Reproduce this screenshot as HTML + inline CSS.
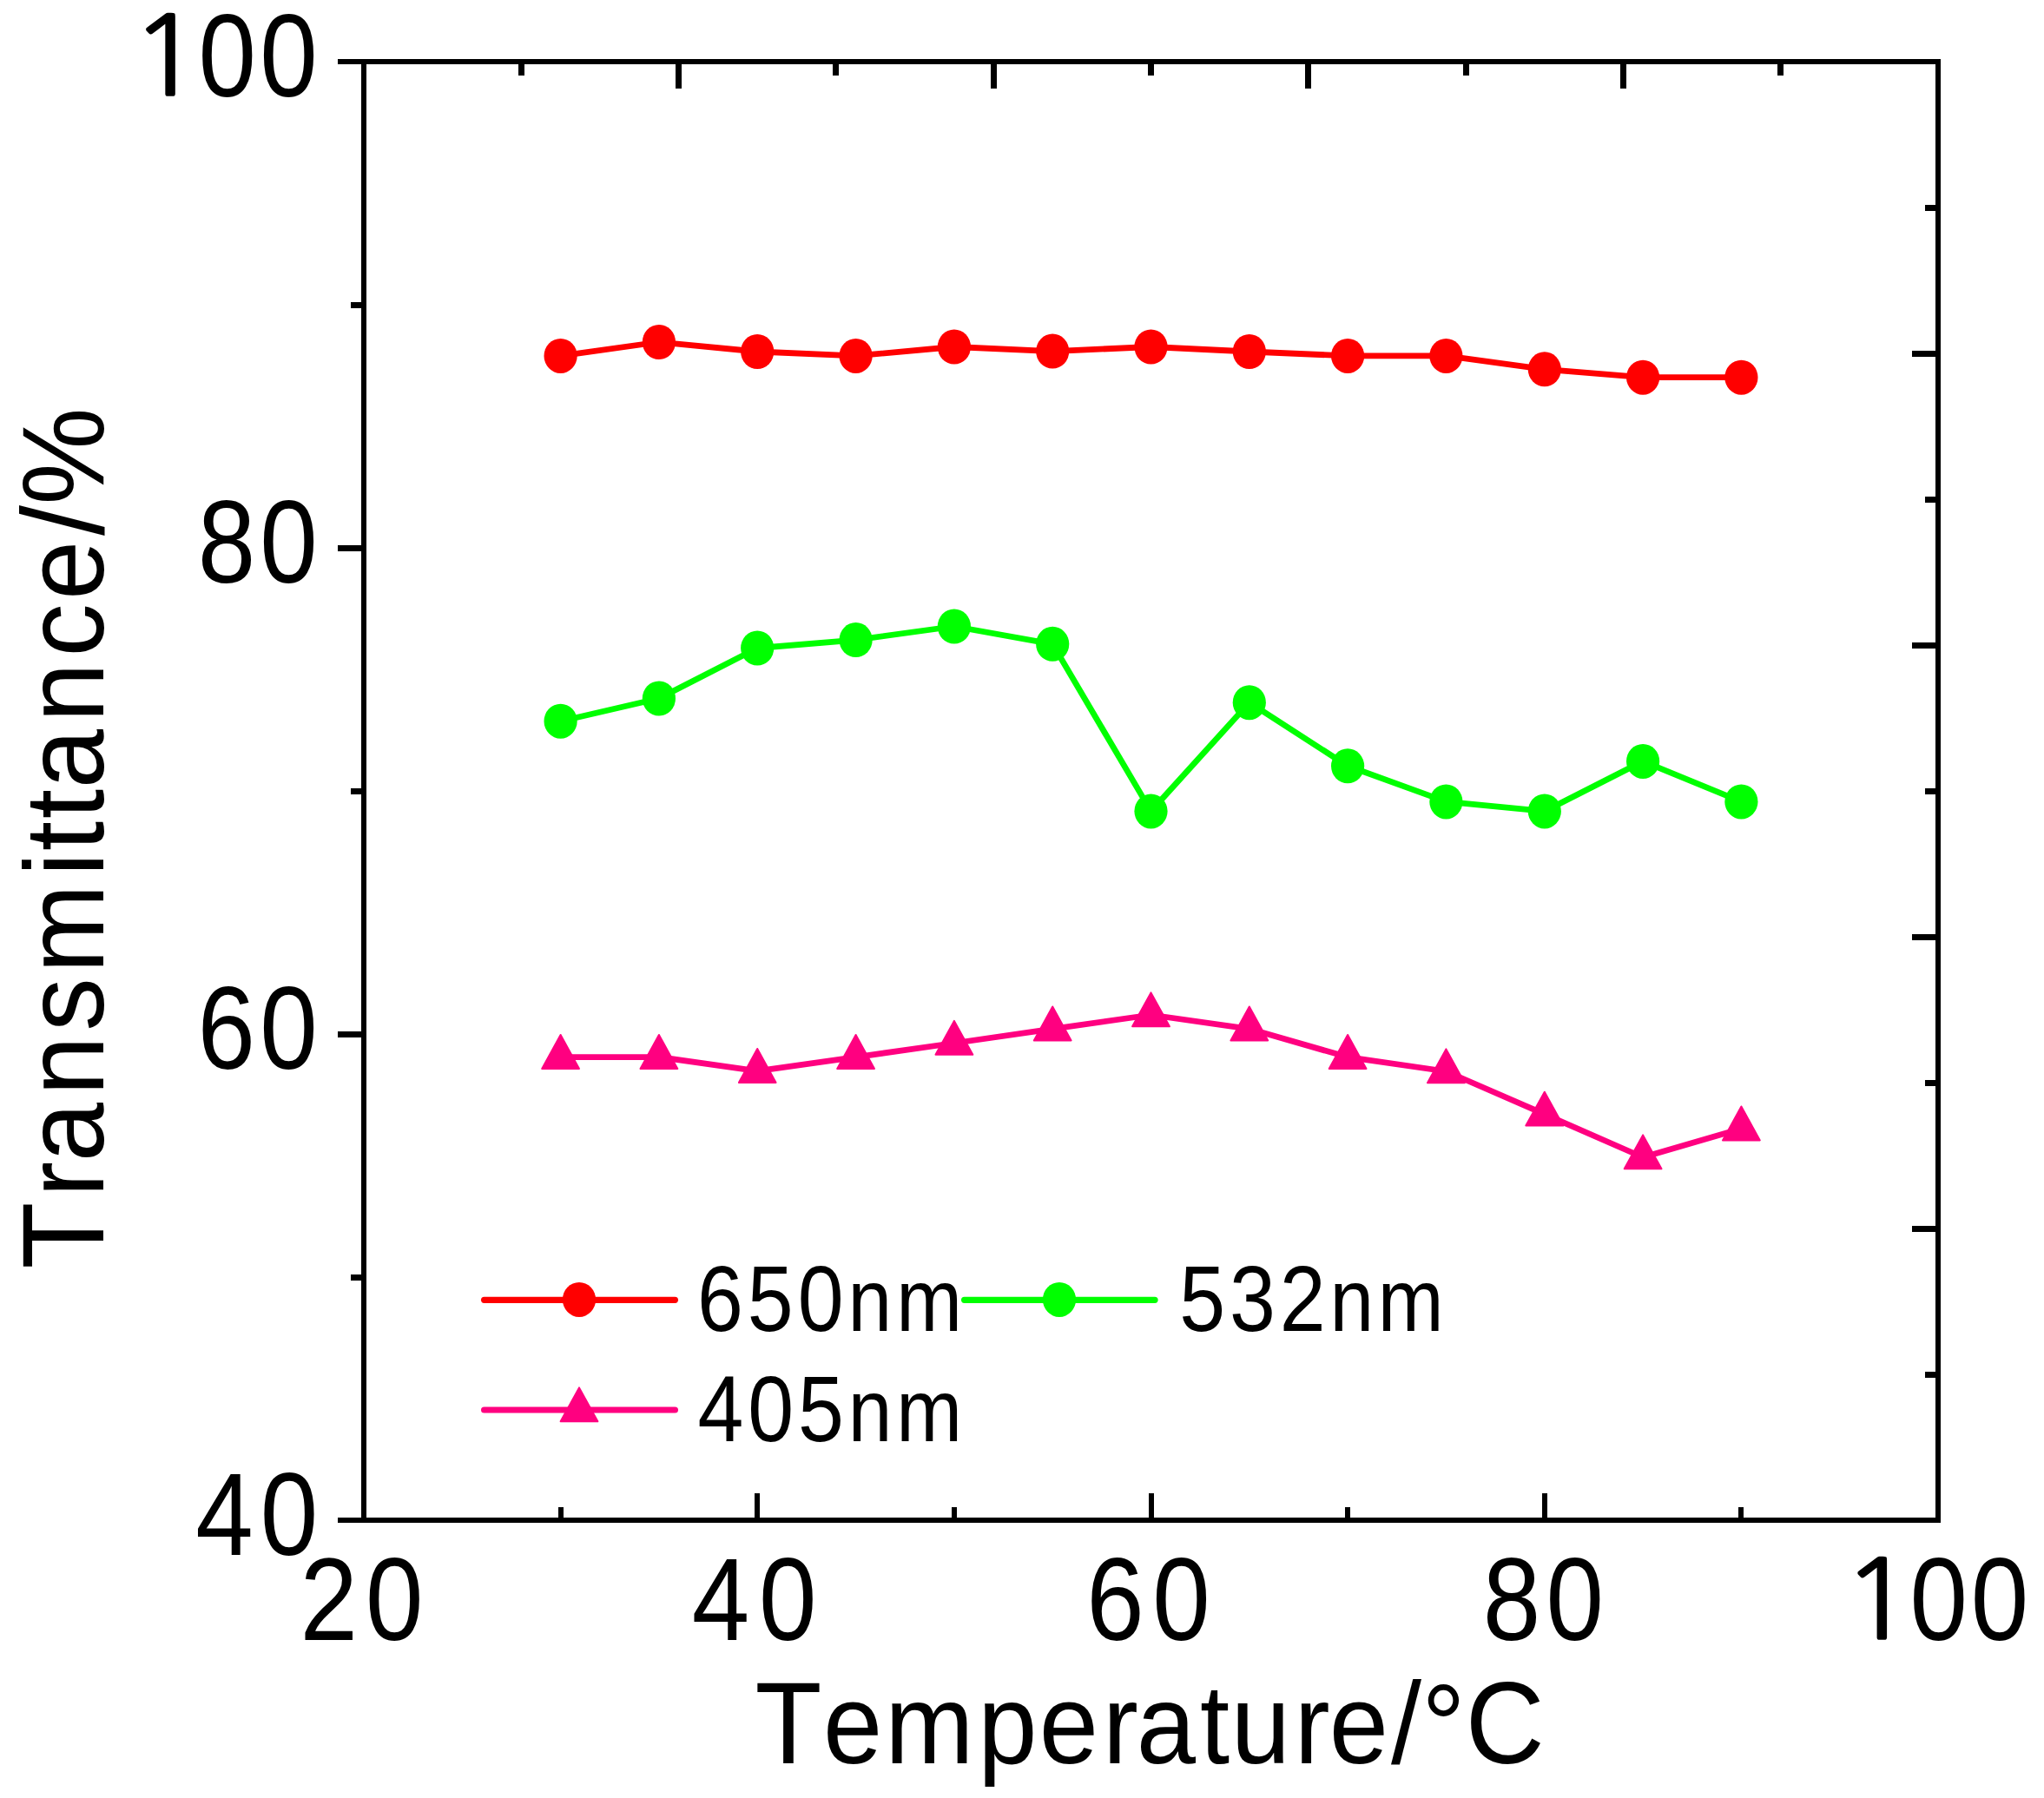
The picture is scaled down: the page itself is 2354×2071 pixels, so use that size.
<!DOCTYPE html>
<html lang="en"><head><meta charset="utf-8"><title>Transmittance vs Temperature</title>
<style>html,body{margin:0;padding:0;background:#fff}svg{display:block}text{font-family:"Liberation Sans",Arial,sans-serif;fill:#000;font-kerning:none}</style>
</head><body>
<svg width="2354" height="2071" viewBox="0 0 2354 2071">
<rect width="2354" height="2071" fill="#fff"/>
<g fill="#000" shape-rendering="crispEdges">
<rect x="416" y="68" width="1819" height="6"/>
<rect x="416" y="1748" width="1819" height="6"/>
<rect x="416" y="68" width="6" height="1686"/>
<rect x="2229" y="68" width="6" height="1686"/>
<rect x="389" y="68" width="30" height="6"/>
<rect x="404" y="348" width="15" height="7"/>
<rect x="389" y="628" width="30" height="7"/>
<rect x="404" y="908" width="15" height="7"/>
<rect x="389" y="1188" width="30" height="7"/>
<rect x="404" y="1468" width="15" height="7"/>
<rect x="389" y="1748" width="30" height="6"/>
<rect x="2217" y="236" width="15" height="7"/>
<rect x="2202" y="404" width="30" height="7"/>
<rect x="2217" y="572" width="15" height="7"/>
<rect x="2202" y="740" width="30" height="7"/>
<rect x="2217" y="908" width="15" height="7"/>
<rect x="2202" y="1076" width="30" height="7"/>
<rect x="2217" y="1244" width="15" height="7"/>
<rect x="2202" y="1412" width="30" height="7"/>
<rect x="2217" y="1580" width="15" height="7"/>
<rect x="643" y="1736" width="6" height="15"/>
<rect x="869" y="1720" width="6" height="31"/>
<rect x="1096" y="1736" width="6" height="15"/>
<rect x="1323" y="1720" width="6" height="31"/>
<rect x="1549" y="1736" width="6" height="15"/>
<rect x="1776" y="1720" width="6" height="31"/>
<rect x="2002" y="1736" width="6" height="15"/>
<rect x="597" y="71" width="7" height="16"/>
<rect x="778" y="71" width="7" height="31"/>
<rect x="959" y="71" width="7" height="16"/>
<rect x="1141" y="71" width="7" height="31"/>
<rect x="1322" y="71" width="7" height="16"/>
<rect x="1503" y="71" width="7" height="31"/>
<rect x="1685" y="71" width="7" height="16"/>
<rect x="1866" y="71" width="7" height="31"/>
<rect x="2047" y="71" width="7" height="16"/>
</g>
<polyline points="645.6,409.9 758.9,394.0 872.2,405.0 985.6,409.9 1098.9,399.5 1212.2,404.6 1325.5,399.5 1438.8,405.0 1552.1,409.9 1665.4,409.9 1778.8,425.3 1892.1,434.7 2005.4,434.7" fill="none" stroke="#ff0000" stroke-width="6.8" stroke-linejoin="round" stroke-linecap="round"/>
<g fill="#ff0000">
<ellipse cx="645.6" cy="409.9" rx="19.1" ry="20.0"/>
<ellipse cx="758.9" cy="394.0" rx="19.1" ry="20.0"/>
<ellipse cx="872.2" cy="405.0" rx="19.1" ry="20.0"/>
<ellipse cx="985.6" cy="409.9" rx="19.1" ry="20.0"/>
<ellipse cx="1098.9" cy="399.5" rx="19.1" ry="20.0"/>
<ellipse cx="1212.2" cy="404.6" rx="19.1" ry="20.0"/>
<ellipse cx="1325.5" cy="399.5" rx="19.1" ry="20.0"/>
<ellipse cx="1438.8" cy="405.0" rx="19.1" ry="20.0"/>
<ellipse cx="1552.1" cy="409.9" rx="19.1" ry="20.0"/>
<ellipse cx="1665.4" cy="409.9" rx="19.1" ry="20.0"/>
<ellipse cx="1778.8" cy="425.3" rx="19.1" ry="20.0"/>
<ellipse cx="1892.1" cy="434.7" rx="19.1" ry="20.0"/>
<ellipse cx="2005.4" cy="434.7" rx="19.1" ry="20.0"/>
</g>
<polyline points="645.6,830.7 758.9,804.5 872.2,746.5 985.6,737.1 1098.9,721.5 1212.2,741.8 1325.5,934.4 1438.8,809.2 1552.1,882.3 1665.4,923.4 1778.8,934.4 1892.1,876.9 2005.4,923.4" fill="none" stroke="#00ff00" stroke-width="6.8" stroke-linejoin="round" stroke-linecap="round"/>
<g fill="#00ff00">
<ellipse cx="645.6" cy="830.7" rx="19.1" ry="20.0"/>
<ellipse cx="758.9" cy="804.5" rx="19.1" ry="20.0"/>
<ellipse cx="872.2" cy="746.5" rx="19.1" ry="20.0"/>
<ellipse cx="985.6" cy="737.1" rx="19.1" ry="20.0"/>
<ellipse cx="1098.9" cy="721.5" rx="19.1" ry="20.0"/>
<ellipse cx="1212.2" cy="741.8" rx="19.1" ry="20.0"/>
<ellipse cx="1325.5" cy="934.4" rx="19.1" ry="20.0"/>
<ellipse cx="1438.8" cy="809.2" rx="19.1" ry="20.0"/>
<ellipse cx="1552.1" cy="882.3" rx="19.1" ry="20.0"/>
<ellipse cx="1665.4" cy="923.4" rx="19.1" ry="20.0"/>
<ellipse cx="1778.8" cy="934.4" rx="19.1" ry="20.0"/>
<ellipse cx="1892.1" cy="876.9" rx="19.1" ry="20.0"/>
<ellipse cx="2005.4" cy="923.4" rx="19.1" ry="20.0"/>
</g>
<polyline points="645.6,1217.6 758.9,1217.6 872.2,1233.6 985.6,1217.6 1098.9,1201.5 1212.2,1185.1 1325.5,1169.0 1438.8,1185.1 1552.1,1217.6 1665.4,1234.0 1778.8,1283.3 1892.1,1333.0 2005.4,1300.1" fill="none" stroke="#ff0080" stroke-width="6.8" stroke-linejoin="round" stroke-linecap="round"/>
<g fill="#ff0080" stroke="#ff0080" stroke-width="2" stroke-linejoin="round">
<path d="M645.6,1192.0 L667.0,1230.9 L624.2,1230.9 Z"/>
<path d="M758.9,1192.0 L780.3,1230.9 L737.5,1230.9 Z"/>
<path d="M872.2,1208.0 L893.6,1246.9 L850.9,1246.9 Z"/>
<path d="M985.6,1192.0 L1007.0,1230.9 L964.2,1230.9 Z"/>
<path d="M1098.9,1175.9 L1120.3,1214.8 L1077.5,1214.8 Z"/>
<path d="M1212.2,1159.5 L1233.6,1198.4 L1190.8,1198.4 Z"/>
<path d="M1325.5,1143.4 L1346.9,1182.3 L1304.1,1182.3 Z"/>
<path d="M1438.8,1159.5 L1460.2,1198.4 L1417.4,1198.4 Z"/>
<path d="M1552.1,1192.0 L1573.5,1230.9 L1530.7,1230.9 Z"/>
<path d="M1665.4,1208.4 L1686.8,1247.3 L1644.0,1247.3 Z"/>
<path d="M1778.8,1257.7 L1800.2,1296.6 L1757.3,1296.6 Z"/>
<path d="M1892.1,1307.4 L1913.5,1346.3 L1870.7,1346.3 Z"/>
<path d="M2005.4,1274.5 L2026.8,1313.4 L1984.0,1313.4 Z"/>
</g>
<text transform="translate(227.79,671.00) scale(0.885,1)" font-size="135" letter-spacing="5.750">80</text>
<text transform="translate(227.41,1231.00) scale(0.885,1)" font-size="135" letter-spacing="6.182">60</text>
<text transform="translate(225.15,1791.00) scale(0.885,1)" font-size="135" letter-spacing="9.080">40</text>
<text transform="translate(149.05,110.16) scale(1.1264,1.0056)" font-size="125" style="font-family:'NanumGothic','Liberation Sans';stroke:#000;stroke-width:1.6px">1</text><text transform="translate(228.41,111.00) scale(0.885,1)" font-size="135" letter-spacing="5.057">00</text>
<text transform="translate(345.49,1888.90) scale(0.885,1)" font-size="135" letter-spacing="10.167">20</text>
<text transform="translate(796.75,1888.90) scale(0.885,1)" font-size="135" letter-spacing="12.130">40</text>
<text transform="translate(1251.21,1888.90) scale(0.885,1)" font-size="135" letter-spacing="10.927">60</text>
<text transform="translate(1707.79,1888.90) scale(0.885,1)" font-size="135" letter-spacing="7.106">80</text>
<text transform="translate(2120.15,1888.16) scale(1.1264,1.0056)" font-size="125" style="font-family:'NanumGothic','Liberation Sans';stroke:#000;stroke-width:1.6px">1</text><text transform="translate(2199.61,1888.90) scale(0.885,1)" font-size="135" letter-spacing="4.040">00</text>
<text transform="translate(872.90,2030.50) scale(0.94,1)"><tspan x="-3.60" font-size="134">T</tspan><tspan x="79.95" font-size="130.5">e</tspan><tspan x="155.61" font-size="130.5">m</tspan><tspan x="269.65" font-size="130.5">p</tspan><tspan x="344.64" font-size="130.5">e</tspan><tspan x="422.39" font-size="130.5">r</tspan><tspan x="463.75" font-size="130.5">a</tspan><tspan x="541.63" font-size="130.5">t</tspan><tspan x="579.67" font-size="130.5">u</tspan><tspan x="657.33" font-size="130.5">r</tspan><tspan x="699.95" font-size="130.5">e</tspan><tspan x="775.76" font-size="134">/</tspan><tspan x="813.14" dy="2.5" font-size="134">°</tspan><tspan x="866.98" dy="-2.5" font-size="134">C</tspan></text>
<text transform="translate(119.20,1457.80) rotate(-90) scale(0.94,1)"><tspan x="-3.87" font-size="134">T</tspan><tspan x="83.98" font-size="130.5">r</tspan><tspan x="127.10" font-size="130.5">a</tspan><tspan x="208.61" font-size="130.5">n</tspan><tspan x="287.36" font-size="130.5">s</tspan><tspan x="358.54" font-size="130.5">m</tspan><tspan x="477.28" font-size="130.5">i</tspan><tspan x="508.18" font-size="130.5">t</tspan><tspan x="547.59" font-size="130.5">t</tspan><tspan x="584.65" font-size="130.5">a</tspan><tspan x="665.95" font-size="130.5">n</tspan><tspan x="745.95" font-size="130.5">c</tspan><tspan x="815.86" font-size="130.5">e</tspan><tspan x="894.43" font-size="134">/</tspan><tspan x="932.18" font-size="134">%</tspan></text>
<line x1="557.6" y1="1497.3" x2="777.4" y2="1497.3" stroke="#ff0000" stroke-width="7.2" stroke-linecap="round"/>
<ellipse cx="667" cy="1496.8999999999999" rx="19.1" ry="20.0" fill="#ff0000"/>
<text transform="translate(802.96,1533.00) scale(0.885,1)" font-size="107.4" letter-spacing="5.669">650<tspan font-size="102.8">nm</tspan></text>
<line x1="1110.6" y1="1497.3" x2="1330.0" y2="1497.3" stroke="#00ff00" stroke-width="7.2" stroke-linecap="round"/>
<ellipse cx="1220" cy="1496.8999999999999" rx="19.1" ry="20.0" fill="#00ff00"/>
<text transform="translate(1358.34,1533.00) scale(0.885,1)" font-size="107.4" letter-spacing="5.448">532<tspan font-size="102.8">nm</tspan></text>
<line x1="557.6" y1="1624" x2="777.4" y2="1624" stroke="#ff0080" stroke-width="7.2" stroke-linecap="round"/>
<g fill="#ff0080" stroke="#ff0080" stroke-width="2" stroke-linejoin="round"><path d="M667.0,1598.4 L688.4,1637.3 L645.6,1637.3 Z"/></g>
<text transform="translate(803.51,1659.80) scale(0.885,1)" font-size="107.4" letter-spacing="5.514">405<tspan font-size="102.8">nm</tspan></text>
</svg>
</body></html>
